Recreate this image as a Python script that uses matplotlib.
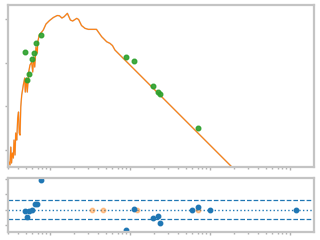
import numpy as np
import matplotlib
matplotlib.use("Agg")
import matplotlib.pyplot as plt
from matplotlib.ticker import LogLocator, NullFormatter, FixedLocator

# Model spectrum (wavelength in micron, flux in arbitrary units)
model_wave = [0.2985, 0.307, 0.316, 0.323, 0.330, 0.338, 0.348, 0.355, 0.365, 0.373,
              0.384, 0.395, 0.404, 0.413, 0.422, 0.431, 0.443, 0.464, 0.483, 0.491,
              0.506, 0.520, 0.542, 0.562, 0.590, 0.608, 0.626, 0.644, 0.668, 0.694,
              0.702, 0.735, 0.787, 0.824, 0.891, 0.980, 1.10, 1.23, 1.31, 1.41,
              1.50, 1.65, 1.80, 1.92, 2.16, 2.28, 2.48, 2.74, 3.01, 3.81,
              4.43, 5.11, 5.62, 6.04, 6.49, 183.0, 422.0]
model_flux = [0.454, 0.531, 0.454, 1.17, 0.504, 0.854, 0.656, 1.69, 0.769, 2.45,
              1.69, 5.40, 7.41, 2.45, 2.20, 9.64, 18.1, 30.7, 44.4, 21.2,
              44.4, 21.2, 60.9, 88.1, 103, 60.9, 134, 79.3, 228, 166,
              296, 428, 501, 557, 764, 910, 1077, 1197, 1184, 1049,
              1122, 1343, 944, 896, 1032, 969, 706, 609, 578, 578,
              392, 301, 276, 246, 194, 0.430, 0.0933]

# Photometry
phot_wave = [0.491, 0.520, 0.551, 0.596, 0.637, 0.674, 0.772, 8.99, 11.3, 19.6, 22.6, 23.9, 71.4]
phot_flux = [172, 40.0, 54.8, 119, 163, 276, 421, 132, 107, 28.7, 20.9, 18.8, 3.14]

# Residuals
res_wave = [0.491, 0.520, 0.551, 0.596, 0.644, 0.682, 0.772, 8.91, 11.3, 19.6, 22.7, 23.9,
            60.1, 71.4, 100.0, 1199.0]
res_val = [-0.09, -0.47, -0.09, -0.05, 0.40, 0.37, 1.93, -1.33, 0.07, -0.53, -0.38, -0.87,
           0.0, 0.2, 0.0, 0.0]
lim_wave = [3.38, 4.64, 12.2, 71.4]
lim_val = [0.0, 0.0, 0.0, 0.0]
band = 0.62

fig = plt.figure(figsize=(3.2, 2.4), dpi=100)
ax = fig.add_axes([0.025, 0.304, 0.956, 0.675])
axr = fig.add_axes([0.025, 0.033, 0.956, 0.227])

spine_c = "#c4c4c4"
for a in (ax, axr):
    a.set_xscale("log")
    for s in a.spines.values():
        s.set_color(spine_c)
        s.set_linewidth(1.6)
    a.tick_params(which="both", direction="out", color="#b0b0b0", length=2, width=1,
                  labelbottom=False, labelleft=False)
    a.tick_params(which="minor", length=1.5)
    a.xaxis.set_major_locator(LogLocator(base=10, numticks=10))
    a.xaxis.set_minor_locator(LogLocator(base=10, subs=np.arange(2, 10), numticks=10))
    a.xaxis.set_minor_formatter(NullFormatter())
    a.set_xlim(0.2985, 1995)

ax.set_yscale("log")
ax.yaxis.set_major_locator(FixedLocator([1, 10, 100, 1000]))
ax.yaxis.set_minor_locator(FixedLocator([]))
ax.yaxis.set_minor_formatter(NullFormatter())
ax.set_ylim(0.408, 2080)

ax.plot(model_wave, model_flux, color="#9a8a7a", lw=1.1, alpha=0.45)
ax.plot(model_wave, model_flux, color="tab:orange", lw=0.8)
ax.plot(phot_wave, phot_flux, "o", color="tab:green", ms=3.3, alpha=0.9)

axr.axhline(band, color="tab:blue", ls="--", lw=0.9)
axr.axhline(-band, color="tab:blue", ls="--", lw=0.9)
axr.axhline(0, color="tab:blue", ls=":", lw=1.0)
axr.plot(lim_wave, lim_val, "o", color="tab:orange", ms=3.2, alpha=0.4)
axr.plot(res_wave, res_val, "o", color="tab:blue", ms=3.2)
axr.set_ylim(-1.46, 2.09)
axr.yaxis.set_major_locator(FixedLocator([-1, 0, 1, 2]))

fig.savefig("out.png", dpi=100)
